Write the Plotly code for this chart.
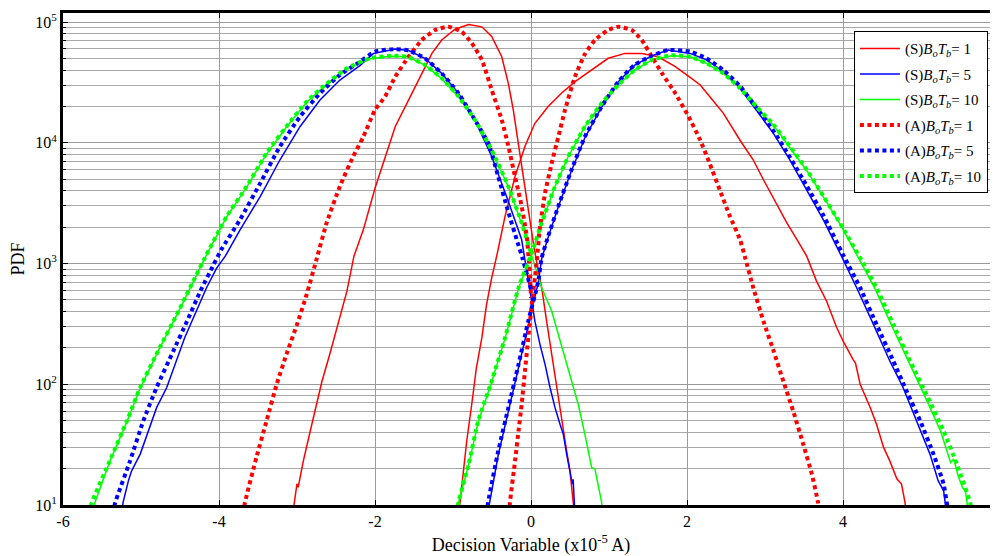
import plotly.graph_objects as go

# ---------------- data ----------------
legend_names = [
    "(S)<i>B</i><sub><i>o</i></sub><i>T</i><sub><i>b</i></sub>= 1",
    "(S)<i>B</i><sub><i>o</i></sub><i>T</i><sub><i>b</i></sub>= 5",
    "(S)<i>B</i><sub><i>o</i></sub><i>T</i><sub><i>b</i></sub>= 10",
    "(A)<i>B</i><sub><i>o</i></sub><i>T</i><sub><i>b</i></sub>= 1",
    "(A)<i>B</i><sub><i>o</i></sub><i>T</i><sub><i>b</i></sub>= 5",
    "(A)<i>B</i><sub><i>o</i></sub><i>T</i><sub><i>b</i></sub>= 10",
]

# (S) BoTb = 1  (red solid)
s1_left_x = [-3.06, -3.02, -3.0, -2.985, -2.92, -2.83, -2.75, -2.68, -2.58, -2.45, -2.36, -2.27, -2.15,
             -2.0, -1.87, -1.74, -1.57, -1.445, -1.27, -1.145, -0.974, -0.80, -0.63, -0.504, -0.375,
             -0.29, -0.227, -0.163, -0.10, -0.035, 0.03, 0.094, 0.137, 0.20, 0.265, 0.33, 0.39, 0.457,
             0.50, 0.54, 0.56]
s1_left_y = [8, 12, 15, 14, 23, 41, 68, 106, 177, 355, 590, 1150, 1900,
             4200, 7700, 13650, 22600, 32900, 55000, 71000, 87200, 95500, 91300, 75900, 51600,
             30900, 18700, 9900, 5260, 2790, 1480, 862, 630, 333, 177, 94, 49.8, 28,
             19.2, 10.5, 8]
s1_right_x = [-0.93, -0.91, -0.87, -0.824, -0.76, -0.70, -0.63, -0.57, -0.504, -0.44, -0.333, -0.205,
              -0.077, 0.05, 0.22, 0.39, 0.564, 0.78, 0.99, 1.205, 1.42, 1.63, 1.85, 2.04, 2.17, 2.29,
              2.465, 2.68, 2.85, 2.98, 3.15, 3.28, 3.41, 3.535, 3.66, 3.79, 3.92, 4.0, 4.13, 4.16,
              4.22, 4.35, 4.43, 4.52, 4.60, 4.69, 4.75, 4.795, 4.81]
s1_right_y = [8, 10.5, 19.2, 33.9, 68, 137, 243, 457, 760, 1150, 2460, 5260,
              9350, 14500, 19950, 25700, 32100, 40100, 50100, 55000, 55000, 51600, 42700, 34800, 30100, 24200,
              17600, 10500, 7200, 4940, 3090, 2170, 1580, 1150, 715, 487, 294, 229, 160, 150,
              100, 64, 46.6, 30, 23.2, 16.5, 14.9, 10.5, 8]

# (S) BoTb = 5  (blue solid)
s5_left_x = [-5.25, -5.23, -5.16, -5.12, -5.01, -4.92, -4.80, -4.67, -4.56, -4.44, -4.29, -4.16, -4.03,
             -3.92, -3.73, -3.47, -3.22, -2.96, -2.705, -2.45, -2.19, -2.02, -1.74, -1.57, -1.36, -1.145,
             -0.93, -0.72, -0.504, -0.30, -0.12, -0.055, 0.01, 0.05, 0.115, 0.18, 0.244, 0.308, 0.372,
             0.414, 0.457, 0.50, 0.53, 0.54, 0.555, 0.565]
s5_left_y = [8, 10.5, 16, 19.2, 26.4, 38.6, 64, 94, 146, 243, 404, 630, 917,
             1150, 1900, 3600, 7200, 13650, 22600, 33100, 43800, 55000, 59700, 58100, 50100, 37600,
             25700, 15500, 7700, 3400, 1580, 862, 457, 333, 214, 146, 94, 64, 46.6,
             38.6, 26.4, 19.2, 14.9, 16.3, 10.5, 8]
s5_right_x = [-0.56, -0.53, -0.42, -0.29, -0.16, -0.035, 0.094, 0.137, 0.22, 0.35, 0.52, 0.69, 0.906,
              1.12, 1.33, 1.55, 1.76, 2.04, 2.25, 2.465, 2.68, 2.89, 3.11, 3.32, 3.535, 3.75, 3.98,
              4.175, 4.39, 4.60, 4.77, 4.945, 5.115, 5.22, 5.29, 5.31, 5.32]
s5_right_y = [8, 10.5, 26, 60, 140, 320, 700, 1100, 1650, 2950, 5900, 11000, 19800,
              32000, 44000, 52600, 58700, 55000, 48600, 38900, 28300, 18600, 11900, 7200, 4070, 2290, 1150,
              630, 313, 156, 94, 49.8, 26.4, 15.9, 13.1, 10.5, 8]

# (S) BoTb = 10  (green solid)
s10_left_x = [-5.61, -5.59, -5.40, -5.18, -5.01, -4.76, -4.54, -4.33, -4.16, -3.90, -3.645, -3.39,
              -3.135, -2.876, -2.62, -2.36, -2.064, -1.8, -1.58, -1.36, -1.145, -0.93, -0.72, -0.504,
              -0.29, -0.12, 0.05, 0.137, 0.265, 0.39, 0.52, 0.606, 0.69, 0.778, 0.82, 0.863, 0.906, 0.92]
s10_left_y = [8, 10.5, 23, 49, 93, 200, 375, 710, 1180, 2440, 4300, 8100,
              13500, 21700, 30600, 41000, 49600, 52000, 51500, 44000, 34000, 24000, 15400, 8650,
              4300, 2150, 980, 630, 404, 214, 106, 68, 38.6, 20.4, 19.8, 14.9, 10.5, 8]
s10_right_x = [-0.95, -0.93, -0.80, -0.676, -0.504, -0.333, -0.16, 0.01, 0.137, 0.308, 0.478, 0.69,
               0.906, 1.12, 1.33, 1.55, 1.8, 2.04, 2.25, 2.465, 2.68, 2.89, 3.11, 3.32, 3.535, 3.75,
               3.96, 4.20, 4.41, 4.62, 4.84, 5.04, 5.25, 5.38, 5.42, 5.47, 5.53, 5.57, 5.59, 5.60]
s10_right_y = [8, 10.5, 21.5, 49, 105, 240, 620, 1220, 2170, 4350, 7700, 13600,
               21300, 30100, 40100, 48600, 52500, 51600, 45500, 37600, 28300, 19700, 13900, 9200, 5900, 3550,
               2140, 1110, 620, 310, 156, 82, 41, 22.5, 24, 18, 14, 13, 10.5, 8]

# (A) BoTb = 1  (red dotted)
a1_left_x = [-3.69, -3.667, -3.52, -3.39, -3.26, -3.135, -3.0, -2.876, -2.75, -2.62, -2.45, -2.28,
             -2.15, -2.0, -1.87, -1.74, -1.57, -1.40, -1.23, -1.06, -0.89, -0.76, -0.63, -0.504,
             -0.375, -0.29, -0.205, -0.12, -0.055, -0.03, -0.01, 0.0]
a1_left_y = [8.5, 10.5, 24.8, 49.8, 100, 177, 313, 555, 1080, 2170, 4360, 7700,
             11200, 18700, 24200, 35300, 51600, 71000, 85900, 91300, 83200, 67000, 48600, 27400,
             15500, 9350, 5260, 2980, 1680, 1100, 750, 520]
a1_right_x = [-0.28, -0.27, -0.205, -0.16, -0.12, -0.077, -0.035, 0.01, 0.05, 0.08, 0.115, 0.18,
              0.265, 0.35, 0.436, 0.564, 0.69, 0.82, 0.99, 1.12, 1.29, 1.42, 1.55, 1.68, 1.85, 2.02,
              2.17, 2.29, 2.42, 2.55, 2.68, 2.74, 2.85, 2.98, 3.11, 3.235, 3.36, 3.49, 3.60, 3.68, 3.70]
a1_right_y = [8.5, 10.5, 23, 41, 68, 129, 243, 457, 760, 1150, 2000, 3830,
              6760, 11200, 18700, 35300, 54100, 71000, 85900, 91300, 85900, 71000, 51600, 37600, 25700, 16500,
              10500, 6760, 4070, 2460, 1580, 1150, 630, 333, 189, 106, 60.4, 31.9, 18.1, 10.5, 8.5]

# (A) BoTb = 5  (blue dotted)
a5_left_x = [-5.36, -5.33, -5.14, -4.97, -4.80, -4.585, -4.41, -4.24, -4.07, -3.97, -3.73, -3.47,
             -3.22, -2.96, -2.705, -2.45, -2.19, -2.0, -1.74, -1.57, -1.36, -1.145, -0.93, -0.72,
             -0.547, -0.42, -0.30, -0.17, -0.11, 0.0]
a5_left_y = [8.5, 10.5, 23.2, 49.8, 94, 189, 333, 590, 977, 1305, 2310, 4650,
             9300, 16500, 25700, 36500, 47000, 57000, 59700, 58100, 50100, 37600, 25700, 15500,
             9900, 5260, 2790, 1480, 1115, 610]
a5_right_x = [-0.57, -0.55, -0.42, -0.29, -0.16, -0.035, 0.094, 0.137, 0.22, 0.35, 0.52, 0.69, 0.906,
              1.12, 1.33, 1.55, 1.76, 2.04, 2.25, 2.465, 2.68, 2.89, 3.11, 3.32, 3.535, 3.75, 4.0,
              4.22, 4.43, 4.645, 4.815, 4.99, 5.16, 5.29, 5.33, 5.36]
a5_right_y = [8.5, 10.5, 28, 64, 146, 333, 715, 1115, 1680, 2980, 5980, 11200, 19950,
              32100, 44200, 52600, 58700, 57000, 50000, 40000, 29500, 19500, 12500, 7600, 4400, 2500, 1186,
              630, 313, 156, 88, 49.8, 26.4, 14.9, 10.5, 8.5]

# (A) BoTb = 10  (green dotted)
a10_left_x = [-5.66, -5.63, -5.40, -5.18, -5.01, -4.76, -4.54, -4.33, -4.16, -3.90, -3.645, -3.39,
              -3.135, -2.876, -2.62, -2.36, -2.064, -1.8, -1.58, -1.36, -1.145, -0.93, -0.72, -0.504,
              -0.29, -0.12, 0.0]
a10_left_y = [8.5, 10.5, 23.2, 49.8, 94, 201, 379, 715, 1186, 2460, 4350, 8200,
              13650, 21900, 30900, 41400, 50100, 52500, 51500, 44200, 34300, 24200, 15500, 8700,
              4350, 2170, 1225]
a10_right_x = [-0.96, -0.93, -0.80, -0.676, -0.504, -0.333, -0.16, 0.01, 0.137, 0.308, 0.478, 0.69,
               0.906, 1.12, 1.33, 1.55, 1.8, 2.04, 2.25, 2.465, 2.68, 2.89, 3.11, 3.32, 3.535, 3.75,
               3.96, 4.22, 4.43, 4.645, 4.86, 5.07, 5.29, 5.46, 5.63, 5.66]
a10_right_y = [8.5, 10.5, 21.8, 49.8, 106, 243, 630, 1225, 2170, 4360, 7700, 13600,
               21300, 30100, 40100, 48600, 53000, 51600, 45500, 37600, 28300, 19950, 14100, 9350, 5980, 3600,
               2170, 1115, 630, 313, 156, 82.6, 41, 21.8, 10.5, 8.5]

x_tick_vals = [-6, -4, -2, 0, 2, 4, 6]
x_tick_text = ["-6", "-4", "-2", "0", "2", "4", "6"]
y_tick_vals = [10, 100, 1000, 10000, 100000]
y_tick_text = ["10<sup>1</sup>", "10<sup>2</sup>", "10<sup>3</sup>", "10<sup>4</sup>", "10<sup>5</sup>"]
y_minor_vals = [m * d for d in (10, 100, 1000, 10000) for m in range(2, 10)]

# ---------------- figure ----------------
series = [
    (legend_names[0], s1_left_x, s1_left_y, s1_right_x, s1_right_y, "#FF0000", False),
    (legend_names[1], s5_left_x, s5_left_y, s5_right_x, s5_right_y, "#0000FF", False),
    (legend_names[2], s10_left_x, s10_left_y, s10_right_x, s10_right_y, "#00FF00", False),
    (legend_names[3], a1_left_x, a1_left_y, a1_right_x, a1_right_y, "#FF0000", True),
    (legend_names[4], a5_left_x, a5_left_y, a5_right_x, a5_right_y, "#0000FF", True),
    (legend_names[5], a10_left_x, a10_left_y, a10_right_x, a10_right_y, "#00FF00", True),
]

FONT = "Liberation Serif, Times New Roman, serif"
fig = go.Figure()
for i, (name, lx, ly, rx, ry, color, dotted) in enumerate(series):
    xs = list(lx) + [None] + list(rx)
    ys = list(ly) + [None] + list(ry)
    if dotted:
        line = dict(color=color, width=4, dash="4px,3.5px", shape="spline", smoothing=0.5)
    else:
        line = dict(color=color, width=1.5)
    fig.add_trace(go.Scatter(x=xs, y=ys, mode="lines", name=name, line=line,
                             connectgaps=False, legendgroup="g%d" % i))

fig.update_layout(
    width=991, height=548,
    margin=dict(l=55, r=0, t=5, b=51),
    paper_bgcolor="white", plot_bgcolor="white",
    font=dict(family=FONT, size=16, color="black"),
    showlegend=True,
    legend=dict(x=0.845, y=0.963, xanchor="left", yanchor="top",
                bgcolor="white", bordercolor="black", borderwidth=1,
                font=dict(family=FONT, size=15, color="black"),
                itemwidth=40, tracegroupgap=3),
)
fig.update_xaxes(
    range=[-6, 6], tickvals=x_tick_vals, ticktext=x_tick_text,
    showline=True, linewidth=3, linecolor="black", mirror="allticks",
    ticks="inside", ticklen=5, tickcolor="black",
    showgrid=True, gridcolor="#9a9a9a", gridwidth=1, zeroline=False,
    tickfont=dict(family=FONT, size=16), ticklabeloverflow="allow",
    title=dict(text="Decision Variable (x10<sup>-5</sup> A)", font=dict(family=FONT, size=18), standoff=14),
    automargin=False,
)
fig.update_yaxes(
    type="log", range=[1, 5.075], tickvals=y_tick_vals, ticktext=y_tick_text,
    showline=True, linewidth=3, linecolor="black", mirror="allticks",
    ticks="inside", ticklen=5, tickcolor="black",
    showgrid=True, gridcolor="#9a9a9a", gridwidth=1, zeroline=False,
    minor=dict(tickmode="array", tickvals=y_minor_vals, ticks="inside", ticklen=3,
               tickcolor="black", showgrid=True, gridcolor="#a8a8a8", gridwidth=1),
    tickfont=dict(family=FONT, size=16),
    title=dict(text="PDF", font=dict(family=FONT, size=18), standoff=7),
    automargin=False,
)

fig.write_html("out.html")
